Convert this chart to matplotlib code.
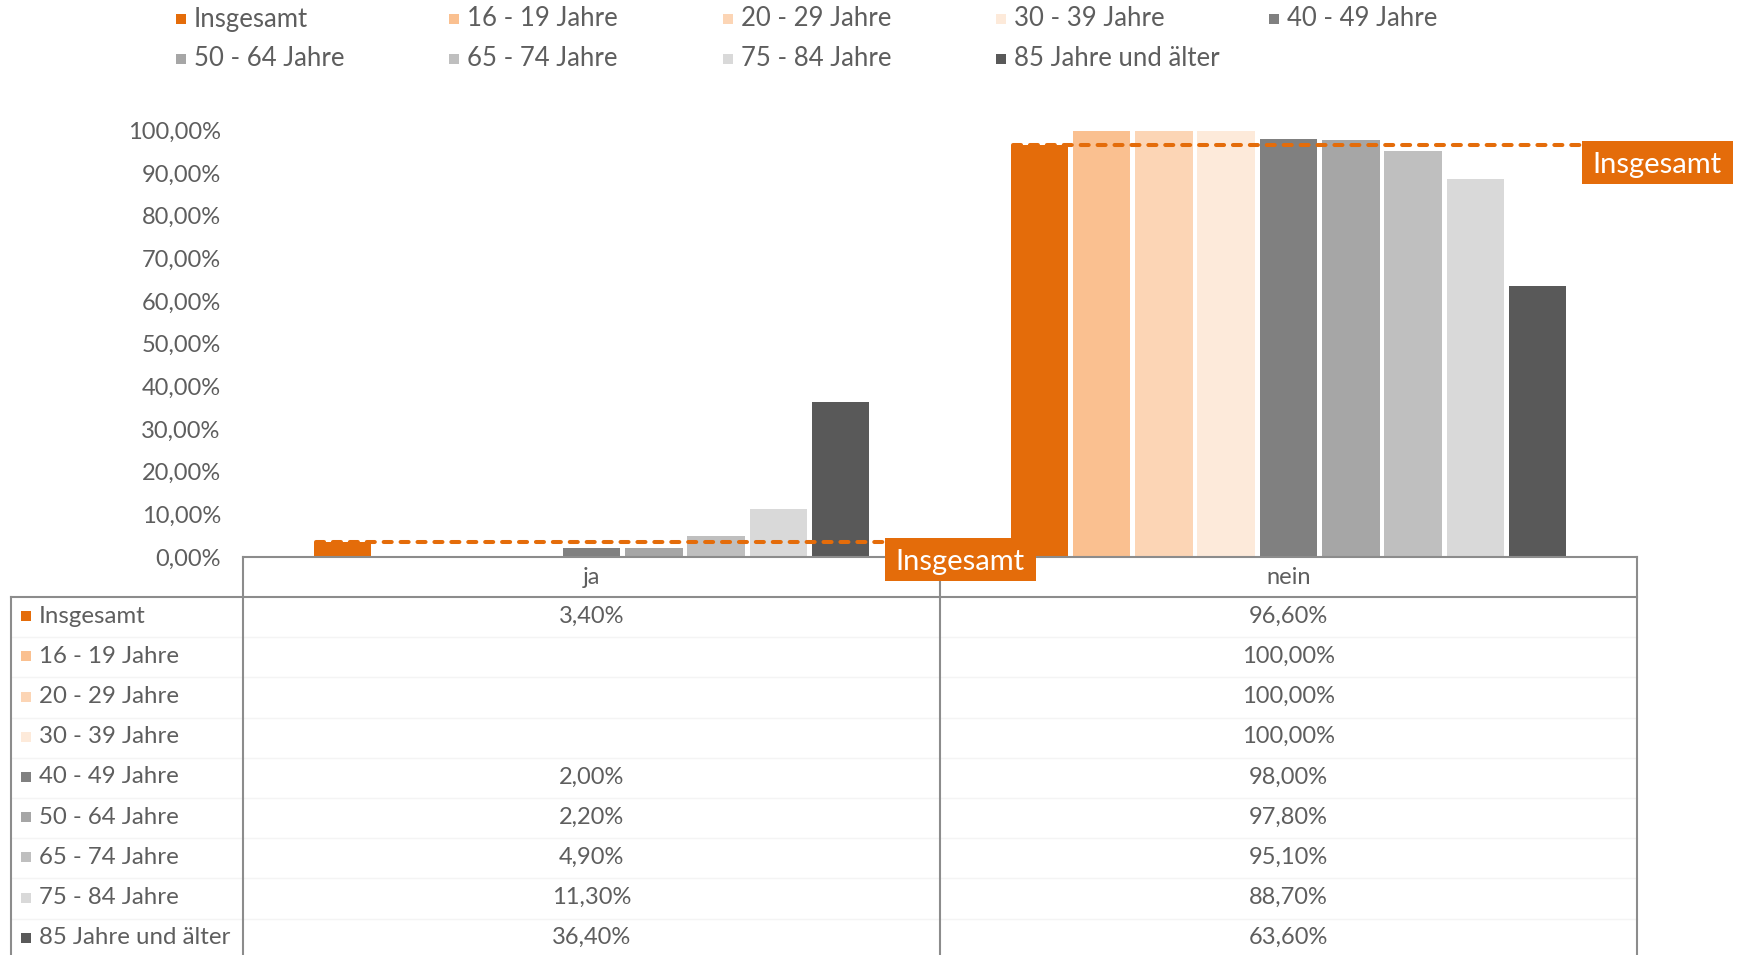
import matplotlib
matplotlib.use("Agg")
import matplotlib.pyplot as plt
from matplotlib.lines import Line2D
from matplotlib.patches import Rectangle
from matplotlib.ticker import FuncFormatter, MultipleLocator
from matplotlib.transforms import IdentityTransform

categories = ["ja", "nein"]
groups = ["Insgesamt", "16 - 19 Jahre", "20 - 29 Jahre", "30 - 39 Jahre",
          "40 - 49 Jahre", "50 - 64 Jahre", "65 - 74 Jahre", "75 - 84 Jahre",
          "85 Jahre und älter"]
colors = ["#E46C0A", "#FAC090", "#FCD5B5", "#FDEADA", "#808080",
          "#A6A6A6", "#BFBFBF", "#D9D9D9", "#595959"]
# percent values per age group; None = no entry
ja = [3.40, None, None, None, 2.00, 2.20, 4.90, 11.30, 36.40]
nein = [96.60, 100.00, 100.00, 100.00, 98.00, 97.80, 95.10, 88.70, 63.60]
total = [3.40, 96.60]

plt.rcParams["font.family"] = ["Lato", "DejaVu Sans"]
TXT = "#5E5E5E"
GRID = "#8C8C8C"
ORANGE = colors[0]

W, H = 1742, 955


def fx(x):
    return x / W


def fy(y):
    return 1 - y / H


def pct(v):
    return f"{v:.2f}%".replace(".", ",")


fig = plt.figure(figsize=(W / 100, H / 100), dpi=100)
ax = fig.add_axes([fx(243), fy(557), (1637 - 243) / W, (557 - 130.5) / H])
ax.set_xlim(-0.5, 1.5)
ax.set_ylim(0, 1)

step = 0.0894
width = 0.0825
for i, (name, col) in enumerate(zip(groups, colors)):
    for c, vals in enumerate([ja, nein]):
        v = vals[i]
        if v is None:
            continue
        ax.bar(c + (i - 4) * step, v / 100, width, color=col, edgecolor="none")

# dashed reference line for "Insgesamt" with its tag
for c, t in enumerate(total):
    x0 = c - 4 * step - width / 2
    x1 = c + 4 * step + width / 2 + 0.022
    ax.plot([x0 + 0.003, x1], [t / 100, t / 100], color=ORANGE, lw=2.9,
            ls=(0, (2.0, 2.2)), dash_capstyle="round", zorder=3)
    px, py = ax.transData.transform((x1, t / 100))
    fig.add_artist(Rectangle((px, py + 4.5 - 43), 151, 43,
                             transform=IdentityTransform(), fc=ORANGE,
                             ec="none", zorder=4))
    fig.text(px + 75.5, py + 4.5 - 21.5, "Insgesamt", color="white",
             fontsize=21, ha="center", va="center_baseline",
             transform=IdentityTransform(), zorder=5)

ax.yaxis.set_major_locator(MultipleLocator(0.1))
ax.yaxis.set_major_formatter(FuncFormatter(lambda v, p: pct(v * 100)))
ax.tick_params(axis="y", length=0, pad=16, labelsize=17, labelcolor=TXT)
ax.set_xticks([])
for s in ax.spines.values():
    s.set_visible(False)

# legend across the top
leg_x = [181, 454, 728, 1001, 1274]
leg_y = [19, 59]
for i, (name, col) in enumerate(zip(groups, colors)):
    lx, ly = leg_x[i % 5], leg_y[i // 5]
    fig.patches.append(Rectangle((fx(lx - 5), fy(ly + 5)), 10 / W, 10 / H,
                                 transform=fig.transFigure, fc=col, ec="none"))
    fig.text(fx(lx + 13), fy(ly), name, fontsize=18.5, color=TXT,
             ha="left", va="center")

# data table below the axis
row_top = 597
row_h = 40.2
col_mid = [591.5, 1288.5]


def hline(y, x0, x1, color=GRID, lw=1.5):
    fig.add_artist(Line2D([fx(x0), fx(x1)], [fy(y), fy(y)], color=color,
                          lw=lw, transform=fig.transFigure))


def vline(x, y0, y1, color=GRID, lw=1.5):
    fig.add_artist(Line2D([fx(x), fx(x)], [fy(y0), fy(y1)], color=color,
                          lw=lw, transform=fig.transFigure))


for k in range(1, 9):
    hline(row_top + k * row_h, 11, 1637, color="#F4F4F4", lw=1)
hline(557, 243, 1637)
hline(row_top, 11, 1637)
for x in [243, 940, 1637]:
    vline(x, 557, H)
vline(11, row_top, H)

for c, cat in enumerate(categories):
    fig.text(fx(col_mid[c]), fy(577), cat, fontsize=17, color=TXT,
             ha="center", va="center")

for i, (name, col) in enumerate(zip(groups, colors)):
    yc = row_top + (i + 0.5) * row_h - 1
    fig.patches.append(Rectangle((fx(21), fy(yc + 5)), 10 / W, 10 / H,
                                 transform=fig.transFigure, fc=col, ec="none"))
    fig.text(fx(39), fy(yc), name, fontsize=17.3, color=TXT,
             ha="left", va="center")
    for c, vals in enumerate([ja, nein]):
        if vals[i] is not None:
            fig.text(fx(col_mid[c]), fy(yc), pct(vals[i]), fontsize=17,
                     color=TXT, ha="center", va="center")

fig.savefig("out.png", dpi=100)
